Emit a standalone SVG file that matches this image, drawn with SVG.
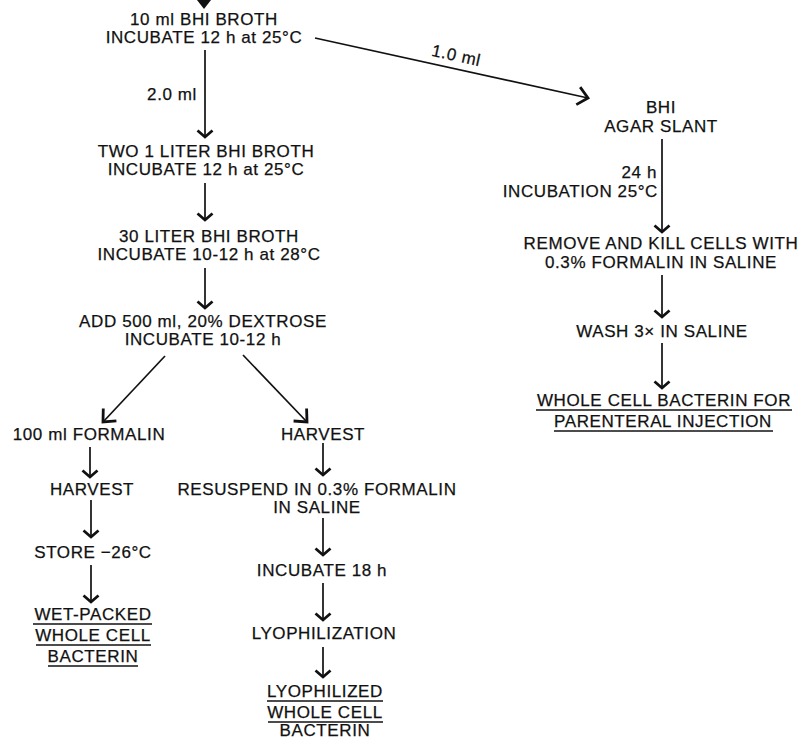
<svg xmlns="http://www.w3.org/2000/svg" width="804" height="740" viewBox="0 0 804 740">
<defs>
<style>
text{font-family:"Liberation Sans",Arial,Helvetica,sans-serif;font-size:17px;letter-spacing:0.6px;fill:#111;stroke:#111;stroke-width:0.25;}
.m{text-anchor:middle;}
.e{text-anchor:end;}
.c{stroke:#111;stroke-width:1.7;fill:none;}
.u{stroke:#111;stroke-width:1.5;}
</style>
<marker id="ah" markerUnits="userSpaceOnUse" markerWidth="20" markerHeight="20" viewBox="-10 -10 20 20" refX="0" refY="0" orient="auto">
<path d="M-6.5,-7.5 L0,0 L-6.5,7.5" fill="none" stroke="#111" stroke-width="2.8" stroke-linejoin="miter"/>
</marker>
<marker id="ahl" markerUnits="userSpaceOnUse" markerWidth="26" markerHeight="26" viewBox="-13 -13 26 26" refX="0" refY="0" orient="auto">
<path d="M-10,-9 L0,0 L-10,9" fill="none" stroke="#111" stroke-width="2.8" stroke-linejoin="miter"/>
</marker>
</defs>
<rect width="804" height="740" fill="#fff"/>
<g id="connectors">
<polygon points="197,0 211,0 204,9" fill="#111"/>
<line class="c" x1="205" y1="50" x2="205" y2="137" marker-end="url(#ah)"/>
<line class="c" x1="205" y1="183" x2="205" y2="220" marker-end="url(#ah)"/>
<line class="c" x1="205" y1="268" x2="205" y2="308" marker-end="url(#ah)"/>
<line class="c" x1="165" y1="356" x2="103" y2="422" marker-end="url(#ahl)"/>
<line class="c" x1="243" y1="355" x2="307" y2="422" marker-end="url(#ahl)"/>
<line class="c" x1="90" y1="447" x2="90" y2="477" marker-end="url(#ah)"/>
<line class="c" x1="91" y1="500" x2="91" y2="537" marker-end="url(#ah)"/>
<line class="c" x1="91" y1="565" x2="91" y2="602" marker-end="url(#ah)"/>
<line class="c" x1="323" y1="443" x2="323" y2="475" marker-end="url(#ah)"/>
<line class="c" x1="323" y1="518" x2="323" y2="555" marker-end="url(#ah)"/>
<line class="c" x1="323" y1="583" x2="323" y2="620" marker-end="url(#ah)"/>
<line class="c" x1="323" y1="647" x2="323" y2="677" marker-end="url(#ah)"/>
<line class="c" x1="315" y1="38" x2="588" y2="98" marker-end="url(#ahl)"/>
<line class="c" x1="662" y1="139" x2="662" y2="232" marker-end="url(#ah)"/>
<line class="c" x1="662" y1="275" x2="662" y2="317" marker-end="url(#ah)"/>
<line class="c" x1="662" y1="343" x2="662" y2="388" marker-end="url(#ah)"/>
<text class="e" x="197" y="100">2.0 ml</text>
<text class="m" x="455" y="61" font-size="16" transform="rotate(12.4 455 61)">1.0 ml</text>
<text class="e" x="657" y="178">24 h</text>
<text class="e" x="658" y="197">INCUBATION 25°C</text>
</g>
<g id="n1"><text class="m" x="204" y="25">10 ml BHI BROTH</text><text class="m" x="204" y="43">INCUBATE 12 h at 25°C</text></g>
<g id="n2"><text class="m" x="206" y="157">TWO 1 LITER BHI BROTH</text><text class="m" x="206" y="175">INCUBATE 12 h at 25°C</text></g>
<g id="n3"><text class="m" x="209" y="242">30 LITER BHI BROTH</text><text class="m" x="209" y="260">INCUBATE 10-12 h at 28°C</text></g>
<g id="n4"><text class="m" x="203" y="327">ADD 500 ml, 20% DEXTROSE</text><text class="m" x="203" y="345">INCUBATE 10-12 h</text></g>
<g id="n5"><text class="m" x="89" y="440">100 ml FORMALIN</text></g>
<g id="n6"><text class="m" x="92" y="495">HARVEST</text></g>
<g id="n7"><text class="m" x="93" y="558">STORE −26°C</text></g>
<g id="n8">
<text class="m" x="93" y="620">WET-PACKED</text><line class="u" x1="33" y1="624" x2="152" y2="624"/>
<text class="m" x="93" y="641">WHOLE CELL</text><line class="u" x1="36" y1="645" x2="151" y2="645"/>
<text class="m" x="93" y="662">BACTERIN</text><line class="u" x1="48" y1="666" x2="138" y2="666"/>
</g>
<g id="n9"><text class="m" x="323" y="440">HARVEST</text></g>
<g id="n10"><text class="m" x="317" y="495">RESUSPEND IN 0.3% FORMALIN</text><text class="m" x="317" y="513">IN SALINE</text></g>
<g id="n11"><text class="m" x="322" y="576">INCUBATE 18 h</text></g>
<g id="n12"><text class="m" x="324" y="639">LYOPHILIZATION</text></g>
<g id="n13">
<text class="m" x="325" y="697">LYOPHILIZED</text><line class="u" x1="267" y1="701" x2="383" y2="701"/>
<text class="m" x="325" y="718">WHOLE CELL</text><line class="u" x1="268" y1="722" x2="383" y2="722"/>
<text class="m" x="325" y="736">BACTERIN</text>
</g>
<g id="n14"><text class="m" x="661" y="113">BHI</text><text class="m" x="661" y="132">AGAR SLANT</text></g>
<g id="n15"><text class="m" x="661" y="249">REMOVE AND KILL CELLS WITH</text><text class="m" x="661" y="268">0.3% FORMALIN IN SALINE</text></g>
<g id="n16"><text class="m" x="662" y="337">WASH 3× IN SALINE</text></g>
<g id="n17">
<text class="m" x="664" y="406">WHOLE CELL BACTERIN FOR</text><line class="u" x1="536" y1="410" x2="792" y2="410"/>
<text class="m" x="663" y="427">PARENTERAL INJECTION</text><line class="u" x1="554" y1="431" x2="773" y2="431"/>
</g>
</svg>
